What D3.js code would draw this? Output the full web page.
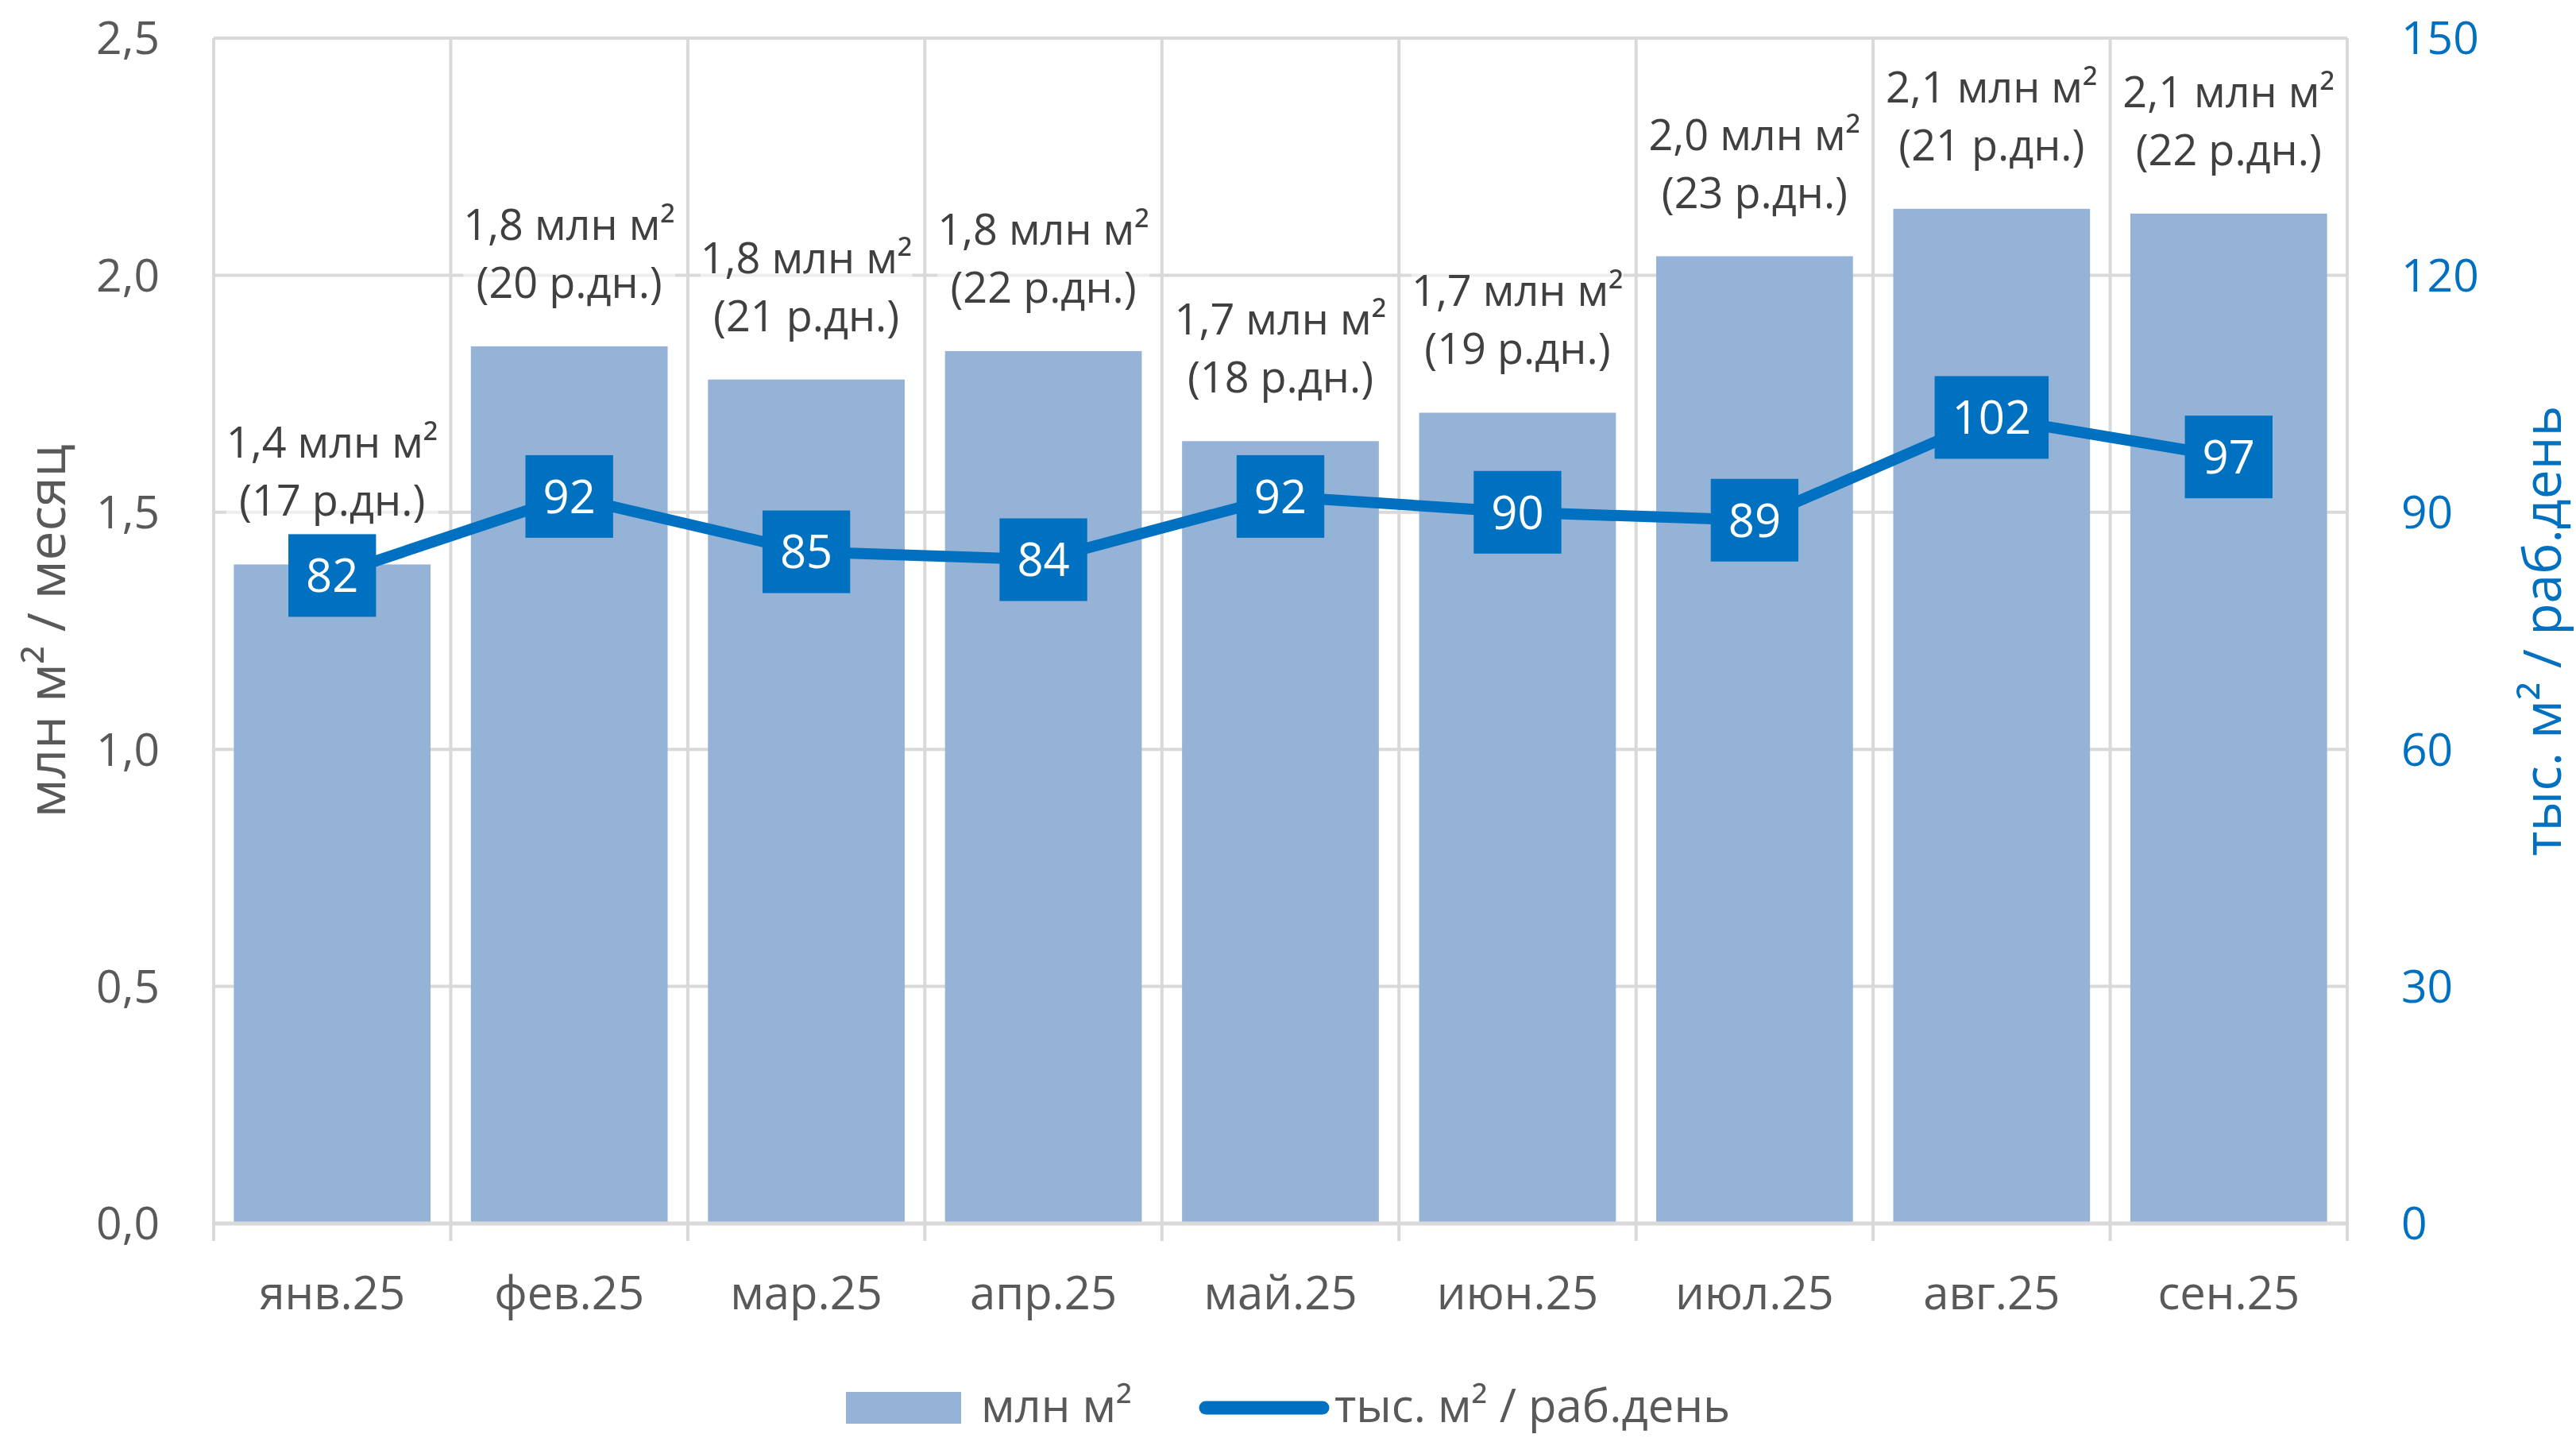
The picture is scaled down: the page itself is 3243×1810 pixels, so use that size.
<!DOCTYPE html>
<html>
<head>
  <meta charset="utf-8">
  <script src="https://d3js.org/d3.v7.min.js"></script>
  <style>
    body { margin: 0; background: #fff; }
    text { font-family: "Open Sans", "Noto Sans", sans-serif; }
  </style>
</head>
<body>
<script>
  // data
  var categories = ["янв.25", "фев.25", "мар.25", "апр.25", "май.25", "июн.25", "июл.25", "авг.25", "сен.25"];
  var volume = [1.39, 1.85, 1.78, 1.84, 1.65, 1.71, 2.04, 2.14, 2.13];
  var volumeText = ["1,4", "1,8", "1,8", "1,8", "1,7", "1,7", "2,0", "2,1", "2,1"];
  var workDays = [17, 20, 21, 22, 18, 19, 23, 21, 22];
  var perDay = [82, 92, 85, 84, 92, 90, 89, 102, 97];
  var leftTicks = [0, 0.5, 1, 1.5, 2, 2.5];
  var rightTicks = [0, 30, 60, 90, 120, 150];

  var width = 3243, height = 1810;
  var plotLeft = 269, plotRight = 2955, plotTop = 48, plotBottom = 1540;
  var grey = "#595959", grid = "#D9D9D9", barColor = "#95B3D7", lineColor = "#0070C0";

  var svg = d3.select("body").append("svg").attr("width", width).attr("height", height);

  var x = d3.scaleBand().domain(categories).range([plotLeft, plotRight])
      .paddingInner(0.17).paddingOuter(0.085);
  var y = d3.scaleLinear().domain([0, 2.5]).range([plotBottom, plotTop]);
  var y2 = d3.scaleLinear().domain([0, 150]).range([plotBottom, plotTop]);
  var comma = function(d) { return d3.format(".1f")(d).replace(".", ","); };

  // horizontal grid
  svg.append("g").selectAll("line").data(leftTicks.slice(1)).enter().append("line")
    .attr("x1", plotLeft).attr("x2", plotRight)
    .attr("y1", function(d) { return y(d); }).attr("y2", function(d) { return y(d); })
    .attr("stroke", grid).attr("stroke-width", 4);

  // vertical grid at category boundaries
  var step = x.step();
  var bounds = d3.range(categories.length + 1).map(function(i) { return plotLeft + i * step; });
  svg.append("g").selectAll("line").data(bounds).enter().append("line")
    .attr("x1", function(d) { return d; }).attr("x2", function(d) { return d; })
    .attr("y1", plotTop).attr("y2", plotBottom + 22)
    .attr("stroke", grid).attr("stroke-width", 4);

  // bars
  svg.append("g").selectAll("rect").data(volume).enter().append("rect")
    .attr("x", function(d, i) { return x(categories[i]); })
    .attr("width", x.bandwidth())
    .attr("y", function(d) { return y(d); })
    .attr("height", function(d) { return plotBottom - y(d); })
    .attr("fill", barColor);

  // x axis line
  svg.append("line").attr("x1", plotLeft).attr("x2", plotRight).attr("y1", plotBottom).attr("y2", plotBottom)
    .attr("stroke", grid).attr("stroke-width", 5);

  // left axis
  var ax = svg.append("g").attr("transform", "translate(" + (plotLeft - 68) + ",0)")
    .call(d3.axisLeft(y).tickValues(leftTicks).tickFormat(comma).tickSize(0).tickPadding(0));
  ax.select(".domain").remove();
  ax.selectAll("text").attr("font-size", 57).attr("fill", grey)
    .attr("font-family", "Open Sans").attr("dy", "0.35em");

  // right axis
  var ax2 = svg.append("g").attr("transform", "translate(" + (plotRight + 68) + ",0)")
    .call(d3.axisRight(y2).tickValues(rightTicks).tickSize(0).tickPadding(0));
  ax2.select(".domain").remove();
  ax2.selectAll("text").attr("font-size", 57).attr("fill", lineColor)
    .attr("font-family", "Open Sans").attr("dy", "0.35em");

  // x axis labels
  var axb = svg.append("g").attr("transform", "translate(0," + plotBottom + ")")
    .call(d3.axisBottom(x).tickSize(0).tickPadding(0));
  axb.select(".domain").remove();
  axb.selectAll("text").attr("font-size", 58).attr("fill", grey)
    .attr("font-family", "Open Sans").attr("dy", 0).attr("y", 108);

  // axis titles
  svg.append("text").attr("transform", "translate(82," + ((plotTop + plotBottom) / 2) + ") rotate(-90)")
    .attr("text-anchor", "middle").attr("font-size", 66).attr("fill", grey)
    .text("млн м² / месяц");
  svg.append("text").attr("transform", "translate(3224," + ((plotTop + plotBottom) / 2) + ") rotate(-90)")
    .attr("text-anchor", "middle").attr("font-size", 66).attr("fill", lineColor)
    .text("тыс. м² / раб.день");

  // line
  var cx = function(i) { return x(categories[i]) + x.bandwidth() / 2; };
  var line = d3.line().x(function(d, i) { return cx(i); }).y(function(d) { return y2(d); });
  svg.append("path").datum(perDay).attr("d", line)
    .attr("fill", "none").attr("stroke", lineColor).attr("stroke-width", 14)
    .attr("stroke-linejoin", "round");

  // marker boxes with values
  var marks = svg.append("g").selectAll("g").data(perDay).enter().append("g")
    .attr("transform", function(d, i) { return "translate(" + cx(i) + "," + y2(d) + ")"; });
  marks.append("rect").attr("fill", lineColor);
  marks.append("text").attr("text-anchor", "middle").attr("dy", "0.36em")
    .attr("font-size", 58).attr("fill", "#fff").text(function(d) { return d; });
  marks.each(function() {
    var g = d3.select(this), bb = g.select("text").node().getBBox();
    var w = bb.width + 44, h = 104;
    g.select("rect").attr("x", -w / 2).attr("y", -h / 2).attr("width", w).attr("height", h);
  });

  // bar labels
  var labels = svg.append("g").selectAll("g").data(volume).enter().append("g")
    .attr("transform", function(d, i) { return "translate(" + cx(i) + "," + (y(d) - 61) + ")"; });
  labels.append("rect").attr("fill", "#fff").attr("opacity", 0.55);
  labels.append("text").attr("text-anchor", "middle").attr("y", -73)
    .attr("font-size", 54).attr("fill", "#404040")
    .text(function(d, i) { return volumeText[i] + " млн м²"; });
  labels.append("text").attr("text-anchor", "middle").attr("y", 0)
    .attr("font-size", 54).attr("fill", "#404040")
    .text(function(d, i) { return "(" + workDays[i] + " р.дн.)"; });
  labels.each(function() {
    var bb = this.getBBox();
    d3.select(this).select("rect").attr("x", bb.x).attr("y", bb.y)
      .attr("width", bb.width).attr("height", bb.height);
  });

  // legend
  var lg = svg.append("g");
  lg.append("rect").attr("x", 1065).attr("y", 1752).attr("width", 145).attr("height", 40).attr("fill", barColor);
  lg.append("text").attr("x", 1235).attr("y", 1790).attr("font-size", 58).attr("fill", grey).text("млн м²");
  lg.append("line").attr("x1", 1518).attr("x2", 1665).attr("y1", 1772).attr("y2", 1772)
    .attr("stroke", lineColor).attr("stroke-width", 17).attr("stroke-linecap", "round");
  lg.append("text").attr("x", 1680).attr("y", 1790).attr("font-size", 58).attr("fill", grey).text("тыс. м² / раб.день");
</script>
</body>
</html>
